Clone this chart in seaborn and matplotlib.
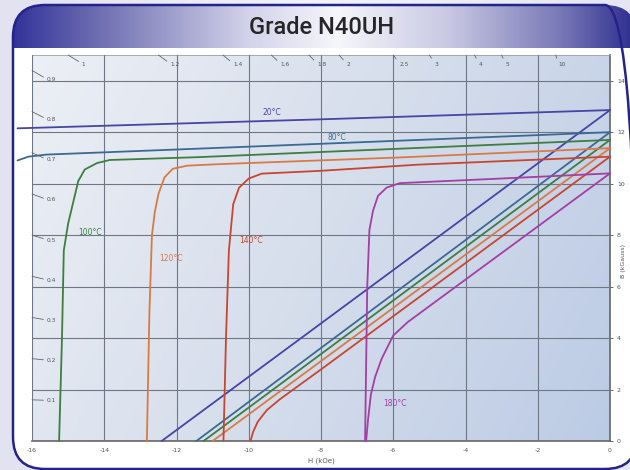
import numpy as np
import pandas as pd
import matplotlib
matplotlib.use("Agg")
import matplotlib.pyplot as plt
import seaborn as sns
from matplotlib.patches import FancyBboxPatch
from matplotlib.colors import LinearSegmentedColormap

sns.set_style("white")
plt.rcParams['font.family'] = ['DejaVu Sans']
plt.rcParams['axes.unicode_minus'] = False

# temperatures and line colours
temps = ["20°C", "80°C", "100°C", "120°C", "140°C", "180°C"]
colors = ["#4545a6", "#3a6a92", "#3f7d40", "#d97a45", "#c8452f", "#a43ea4"]

# intrinsic curves, H (kOe) / B (kG)
j20_h = [-16.4, -8.0, 0.0]
j20_b = [12.15, 12.5, 12.86]
j80_h = [-16.4, -16.1, -15.6, -11.4, -5.3, 0.0]
j80_b = [10.9, 11.05, 11.13, 11.36, 11.7, 12.0]
j100_h = [-15.25, -15.17, -15.12, -15.0, -14.72, -14.54, -14.2, -13.85, -11.4, -5.8, 0.0]
j100_b = [0.0, 4.0, 7.4, 8.45, 10.1, 10.55, 10.8, 10.92, 11.03, 11.36, 11.7]
j120_h = [-12.82, -12.75, -12.68, -12.6, -12.5, -12.33, -12.1, -11.7, -10.8, -5.8, 0.0]
j120_b = [0.0, 5.0, 8.0, 8.9, 9.6, 10.25, 10.58, 10.7, 10.76, 11.02, 11.38]
j140_h = [-10.7, -10.63, -10.55, -10.43, -10.27, -10.0, -9.64, -8.0, -5.3, 0.0]
j140_b = [0.0, 4.0, 7.4, 9.2, 9.84, 10.2, 10.39, 10.5, 10.74, 11.05]
j180_h = [-6.78, -6.72, -6.66, -6.56, -6.42, -6.18, -5.82, -3.0, 0.0]
j180_b = [0.0, 6.0, 8.2, 8.95, 9.53, 9.85, 10.02, 10.2, 10.4]

# normal curves
n20_h = [-12.41, 0.0]
n20_b = [0.0, 12.86]
n80_h = [-11.45, 0.0]
n80_b = [0.0, 12.0]
n100_h = [-11.25, 0.0]
n100_b = [0.0, 11.7]
n120_h = [-11.0, 0.0]
n120_b = [0.0, 11.38]
n140_h = [-9.95, -9.88, -9.75, -9.5, -9.14, -8.03, 0.0]
n140_b = [0.0, 0.35, 0.75, 1.2, 1.62, 2.75, 11.05]
n180_h = [-6.75, -6.7, -6.62, -6.5, -6.32, -6.0, -5.6, -4.71, 0.0]
n180_b = [0.0, 0.8, 1.8, 2.5, 3.2, 4.1, 4.62, 5.54, 10.4]

# label positions for each temperature (H, B)
label_h = [-9.36, -7.56, -14.4, -12.15, -9.95, -5.95]
label_b = [12.75, 11.8, 8.1, 7.1, 7.8, 1.47]

# permeance coefficient markers
left_pc = [0.9, 0.8, 0.7, 0.6, 0.5, 0.4, 0.3, 0.2, 0.1]
top_pc = [1, 1.2, 1.4, 1.6, 1.8, 2, 2.5, 3, 4, 5, 10]
top_pc_labels = ["1", "1.2", "1.4", "1.6", "1.8", "2", "2.5", "3", "4", "5", "10"]

H_MIN, H_MAX, B_MIN, B_MAX = -16, 0, 0, 15

series = [
    ("20°C", "J", j20_h, j20_b), ("20°C", "N", n20_h, n20_b),
    ("80°C", "J", j80_h, j80_b), ("80°C", "N", n80_h, n80_b),
    ("100°C", "J", j100_h, j100_b), ("100°C", "N", n100_h, n100_b),
    ("120°C", "J", j120_h, j120_b), ("120°C", "N", n120_h, n120_b),
    ("140°C", "J", j140_h, j140_b), ("140°C", "N", n140_h, n140_b),
    ("180°C", "J", j180_h, j180_b), ("180°C", "N", n180_h, n180_b),
]
rows = []
for t, kind, hs, bs in series:
    for h, b in zip(hs, bs):
        rows.append({"temp": t, "kind": kind, "H": h, "B": b})
df = pd.DataFrame(rows)

fig = plt.figure(figsize=(6.3, 4.7), dpi=100)
W, Hpx = 630, 470

# --- page / frame / header drawn in pixel space ---
bg = fig.add_axes([0, 0, 1, 1], zorder=0)
page = LinearSegmentedColormap.from_list("page", ["#e2e2f0", "#f3f3f9", "#e6e6f3"])
bg.imshow(np.linspace(0, 1, 256)[None, :], cmap=page, extent=(0, W, 0, Hpx),
          aspect="auto", zorder=0)
frame = FancyBboxPatch((13, 1), 624, 464, boxstyle="round,pad=0,rounding_size=32",
                       fc="white", ec="none", zorder=1)
bg.add_patch(frame)
hdr = LinearSegmentedColormap.from_list(
    "hdr", [(0, "#33339a"), (0.15, "#7474b5"), (0.38, "#d4d4eb"), (0.52, "#f6f6fb"),
            (0.7, "#c8c8e3"), (0.88, "#7878b7"), (1, "#2c2c8e")])
im = bg.imshow(np.linspace(0, 1, 256)[None, :], cmap=hdr, extent=(13, 637, 422, 465),
               aspect="auto", zorder=2)
im.set_clip_path(frame)
bg.add_patch(FancyBboxPatch((13, 1), 624, 464, boxstyle="round,pad=0,rounding_size=32",
                            fc="none", ec="#23238c", lw=1.8, zorder=3))
bg.text(322, 442, "Grade N40UH", ha="center", va="center", fontsize=17,
        family="Roboto", fontweight="medium", color="#262626", zorder=4)
bg.text(624, Hpx - 261, "B (kGauss)", rotation=90, ha="center", va="center",
        fontsize=4.5, color="#555555", zorder=4)
bg.set_xlim(0, W)
bg.set_ylim(0, Hpx)
bg.axis("off")

# --- chart ---
ax = fig.add_axes([32 / W, 29 / Hpx, 578 / W, 386 / Hpx], zorder=1)
ax.patch.set_alpha(0)
yy, xx = np.mgrid[0:1:100j, 0:1:200j]
plotbg = LinearSegmentedColormap.from_list("plotbg", ["#eceff5", "#d6deec", "#bccbe5"])
ax.imshow(0.75 * xx + 0.25 * yy, cmap=plotbg, extent=(H_MIN, H_MAX, B_MIN, B_MAX),
          aspect="auto", origin="upper", zorder=0)

sns.lineplot(data=df, x="H", y="B", hue="temp", units="kind", estimator=None, sort=False,
             palette=dict(zip(temps, colors)), legend=False, lw=1.3, ax=ax, zorder=3)
for ln in ax.lines:
    ln.set_clip_on(False)

for t, c, h, b in zip(temps, colors, label_h, label_b):
    ax.text(h, b, t, color=c, fontsize=5.5, ha="center", va="center", zorder=4)

# permeance coefficient ticks
px_h = 578 / (H_MAX - H_MIN)
px_b = 386 / (B_MAX - B_MIN)
ratio = px_b / px_h
pt = 72 / 100
for pc in left_pc:
    dx = 14
    dy = dx * ratio * pc
    ax.annotate(f"{pc:.1f}", xy=(H_MIN, -H_MIN * pc), xytext=(dx * pt + 0.5, -dy * pt),
                textcoords="offset points", ha="left", va="center", fontsize=4.2,
                color="#555555", annotation_clip=False,
                arrowprops=dict(arrowstyle="-", color="#666666", lw=0.6,
                                shrinkA=0, shrinkB=0, relpos=(0, 0.6)))
for pc, lab in zip(top_pc, top_pc_labels):
    dy = 9
    dx = dy / (ratio * pc)
    ax.annotate(lab, xy=(-B_MAX / pc, B_MAX), xytext=(dx * pt + 0.8, -dy * pt),
                textcoords="offset points", ha="left", va="center", fontsize=4.2,
                color="#555555", annotation_clip=False,
                arrowprops=dict(arrowstyle="-", color="#666666", lw=0.6,
                                shrinkA=0, shrinkB=0, relpos=(0, 0.6)))

ax.set_xlim(H_MIN, H_MAX)
ax.set_ylim(B_MIN, B_MAX)
ax.set_xticks(range(-16, 1, 2))
ax.set_yticks(range(0, 15, 2))
ax.yaxis.tick_right()
ax.grid(True, color="#6f7684", lw=0.8, zorder=1)
ax.set_axisbelow(False)
ax.tick_params(labelsize=4.5, colors="#555555", length=2, width=0.6, pad=3)
ax.tick_params(axis="y", left=False, right=True)
ax.set_xlabel("H (kOe)", fontsize=5, color="#555555", labelpad=3)
ax.set_ylabel("")
for side in ["right", "bottom"]:
    ax.spines[side].set_color("#666666")
    ax.spines[side].set_linewidth(1.2)
ax.spines["top"].set_color("#9aa0aa")
ax.spines["top"].set_linewidth(0.6)
ax.spines["left"].set_visible(False)
for gl in ax.get_xgridlines() + ax.get_ygridlines():
    gl.set_zorder(1)

fig.savefig("out.png", dpi=100)
